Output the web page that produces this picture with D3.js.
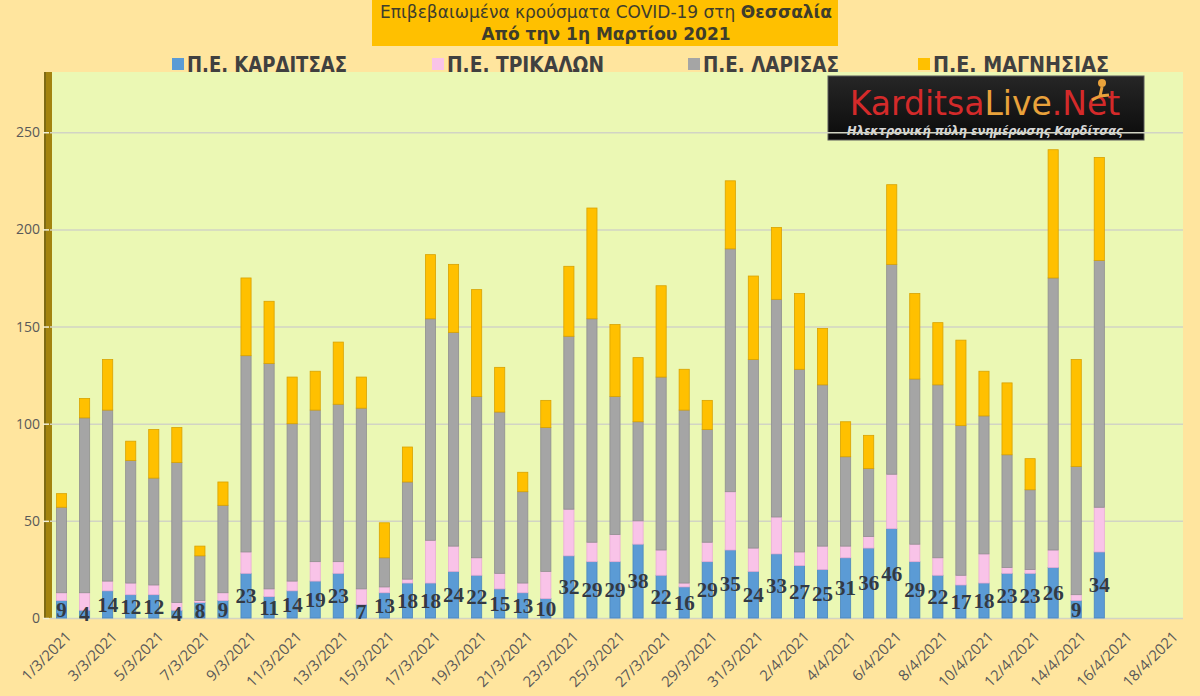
<!DOCTYPE html>
<meta charset="utf-8">
<script src="https://d3js.org/d3.v7.min.js"></script>
<style>
  body { margin: 0; background: #ffe59e; }
  svg { display: block; }
</style>
<body>
<div id="chart"></div>
<script>

// categories (one per day, labels shown every other day)
var dates = ["1/3/2021","2/3/2021","3/3/2021","4/3/2021","5/3/2021","6/3/2021","7/3/2021","8/3/2021","9/3/2021","10/3/2021",
  "11/3/2021","12/3/2021","13/3/2021","14/3/2021","15/3/2021","16/3/2021","17/3/2021","18/3/2021","19/3/2021","20/3/2021",
  "21/3/2021","22/3/2021","23/3/2021","24/3/2021","25/3/2021","26/3/2021","27/3/2021","28/3/2021","29/3/2021","30/3/2021",
  "31/3/2021","1/4/2021","2/4/2021","3/4/2021","4/4/2021","5/4/2021","6/4/2021","7/4/2021","8/4/2021","9/4/2021",
  "10/4/2021","11/4/2021","12/4/2021","13/4/2021","14/4/2021","15/4/2021","16/4/2021","17/4/2021","18/4/2021"];

var tickDates = ["1/3/2021","3/3/2021","5/3/2021","7/3/2021","9/3/2021","11/3/2021","13/3/2021","15/3/2021","17/3/2021",
  "19/3/2021","21/3/2021","23/3/2021","25/3/2021","27/3/2021","29/3/2021","31/3/2021","2/4/2021","4/4/2021","6/4/2021",
  "8/4/2021","10/4/2021","12/4/2021","14/4/2021","16/4/2021","18/4/2021"];

var yTicks = [0, 50, 100, 150, 200, 250];

// series values (1/3 .. 15/4)
var karditsa = [9,4,14,12,12,4,8,9,23,11,14,19,23,7,13,18,18,24,22,15,13,10,32,29,29,38,22,16,29,35,24,33,27,25,31,36,46,29,22,17,18,23,23,26,9,34];
var trikala  = [4,9,5,6,5,4,1,4,11,4,5,10,6,8,3,2,22,13,9,8,5,14,24,10,14,12,13,2,10,30,12,19,7,12,6,6,28,9,9,5,15,3,2,9,3,23];
var larisa   = [44,90,88,63,55,72,23,45,101,116,81,78,81,93,15,50,114,110,83,83,47,74,89,115,71,51,89,89,58,125,97,112,94,83,46,35,108,85,89,77,71,58,41,140,66,127];
var magnisia = [7,10,26,10,25,18,5,12,40,32,24,20,32,16,18,18,33,35,55,23,10,14,36,57,37,33,47,21,15,35,43,37,39,29,18,17,41,44,32,44,23,37,16,66,55,53];

var seriesNames = ["Π.Ε. ΚΑΡΔΙΤΣΑΣ", "Π.Ε. ΤΡΙΚΑΛΩΝ", "Π.Ε. ΛΑΡΙΣΑΣ", "Π.Ε. ΜΑΓΝΗΣΙΑΣ"];
var fills   = ["#5b9bd5", "#f9c3e8", "#a5a5a5", "#ffc000"];
var strokes = ["#4a86be", "#e9acd6", "#8f8f8f", "#d8a200"];

var W = 1200, H = 696;
var plot = {left: 50, right: 1180, top: 72, bottom: 618};

var svg = d3.select("#chart").append("svg")
  .attr("width", W).attr("height", H)
  .style("font-family", "'Open Sans', sans-serif");

svg.append("rect").attr("width", W).attr("height", H).attr("fill", "#ffe59e");

// plot area
svg.append("rect")
  .attr("x", plot.left).attr("y", plot.top)
  .attr("width", 1183 - plot.left).attr("height", plot.bottom - plot.top)
  .attr("fill", "#ebf8b4");

// side wall
svg.append("rect")
  .attr("x", 44).attr("y", plot.top)
  .attr("width", 8).attr("height", plot.bottom - plot.top)
  .attr("fill", "#a3830f");
svg.append("rect")
  .attr("x", 44).attr("y", plot.top)
  .attr("width", 2).attr("height", plot.bottom - plot.top)
  .attr("fill", "#7e6a14");

// title box
svg.append("rect").attr("x", 372).attr("y", 0).attr("width", 466).attr("height", 46).attr("fill", "#ffc000");
var t1 = svg.append("text").attr("x", 606).attr("y", 18).attr("text-anchor", "middle")
  .style("font-family", "'DejaVu Sans', sans-serif").style("font-size", "17px").attr("fill", "#3e3d2c");
t1.append("tspan").text("Επιβεβαιωμένα κρούσματα COVID-19 στη ");
t1.append("tspan").style("font-weight", "bold").text("Θεσσαλία");
svg.append("text").attr("x", 606).attr("y", 40).attr("text-anchor", "middle")
  .style("font-family", "'DejaVu Sans', sans-serif").style("font-size", "17px").style("font-weight", "bold")
  .attr("fill", "#3e3d2c").text("Από την 1η Μαρτίου 2021");

// legend
var legendX = [172, 432, 688, 918];
var legendW = [160, 157, 136, 176];
var leg = svg.append("g").selectAll("g").data(seriesNames).join("g")
  .attr("transform", function(d, i) { return "translate(" + legendX[i] + ",64)"; });
leg.append("rect").attr("x", 0).attr("y", -6).attr("width", 12).attr("height", 12)
  .attr("fill", function(d, i) { return fills[i]; });
leg.append("text").attr("x", 15).attr("y", 8)
  .style("font-family", "'Liberation Sans Narrow', 'DejaVu Sans Condensed', sans-serif")
  .style("font-size", "22px").style("font-weight", "bold").attr("fill", "#404040")
  .attr("textLength", function(d, i) { return legendW[i]; })
  .attr("lengthAdjust", "spacingAndGlyphs")
  .text(function(d) { return d; });

// logo
var logo = svg.append("g").attr("transform", "translate(828,76)");
var grad = svg.append("defs").append("linearGradient").attr("id", "lg").attr("x1", 0).attr("y1", 0).attr("x2", 0).attr("y2", 1);
grad.append("stop").attr("offset", "0%").attr("stop-color", "#262626");
grad.append("stop").attr("offset", "100%").attr("stop-color", "#0b0b0b");
logo.append("rect").attr("width", 316).attr("height", 64).attr("fill", "url(#lg)").attr("stroke", "#5a5a5a");
var lt = logo.append("text").attr("x", 157).attr("y", 39).attr("text-anchor", "middle")
  .style("font-family", "'DejaVu Sans', sans-serif").style("font-size", "33px");
lt.append("tspan").attr("fill", "#d42a2a").text("Karditsa");
lt.append("tspan").attr("fill", "#e9a23b").text("Live");
lt.append("tspan").attr("fill", "#d42a2a").text(".Net");
logo.append("circle").attr("cx", 274).attr("cy", 7).attr("r", 4).attr("fill", "#e9a23b");
logo.append("path").attr("d", "M274,11 L272,20 L264,24 M272,20 L281,19").attr("stroke", "#e9a23b").attr("stroke-width", 3).attr("fill", "none");
logo.append("text").attr("x", 157).attr("y", 59).attr("text-anchor", "middle")
  .style("font-family", "'DejaVu Sans', sans-serif").style("font-size", "11.5px").style("font-weight", "bold").style("font-style", "italic")
  .attr("fill", "#d8d8d8").text("Ηλεκτρονική πύλη ενημέρωσης Καρδίτσας");

// scales
var x = d3.scaleBand().domain(dates).range([plot.left, plot.right]).paddingInner(0.56).paddingOuter(0.28);
var y = d3.scaleLinear().domain([0, 281]).range([plot.bottom, plot.top]);

// gridlines + y labels
var yAxis = svg.append("g").attr("transform", "translate(" + plot.left + ",0)")
  .call(d3.axisLeft(y).tickValues(yTicks).tickSize(-(1183 - plot.left)).tickPadding(10));
yAxis.select(".domain").remove();
yAxis.selectAll(".tick line").attr("stroke", "#d2d4c4").attr("stroke-width", 1.5);
yAxis.selectAll(".tick text").attr("fill", "#595959").style("font-size", "14px")
  .style("font-family", "'Open Sans', sans-serif");
yAxis.selectAll(".tick").append("line").attr("x1", -7).attr("x2", -1).attr("stroke", "#f4f0d8").attr("stroke-width", 1.5);

// stacked bars
var rows = karditsa.map(function(k, i) {
  return {date: dates[i], k: k, t: trikala[i], l: larisa[i], m: magnisia[i]};
});
var keys = ["k", "t", "l", "m"];
var stacked = d3.stack().keys(keys)(rows);

svg.append("g").selectAll("g").data(stacked).join("g")
  .attr("fill", function(d, i) { return fills[i]; })
  .attr("stroke", function(d, i) { return strokes[i]; })
  .attr("stroke-width", 0.8)
  .selectAll("rect").data(function(d) { return d; }).join("rect")
    .attr("x", function(d) { return x(d.data.date); })
    .attr("y", function(d) { return y(d[1]); })
    .attr("width", x.bandwidth())
    .attr("height", function(d) { return y(d[0]) - y(d[1]); });

// data labels (Karditsa, centred on the blue segment)
svg.append("g").selectAll("text").data(rows).join("text")
  .attr("x", function(d) { return x(d.date) + x.bandwidth() / 2; })
  .attr("y", function(d) { return y(d.k / 2); })
  .attr("dy", "0.35em")
  .attr("text-anchor", "middle")
  .style("font-family", "'Liberation Serif', serif")
  .style("font-size", "21px").style("font-weight", "bold")
  .attr("fill", "#333a44")
  .text(function(d) { return d.k; });

// x axis labels
var xAxis = svg.append("g").attr("transform", "translate(0," + plot.bottom + ")")
  .call(d3.axisBottom(x).tickValues(tickDates).tickSize(0).tickPadding(0));
xAxis.select(".domain").remove();
xAxis.selectAll(".tick text")
  .attr("fill", "#595959")
  .style("font-size", "15px")
  .style("font-family", "'Open Sans', sans-serif")
  .attr("text-anchor", "end")
  .attr("y", 0).attr("dy", "0.35em")
  .attr("transform", "translate(7,16) rotate(-45)");

</script>
</body>
